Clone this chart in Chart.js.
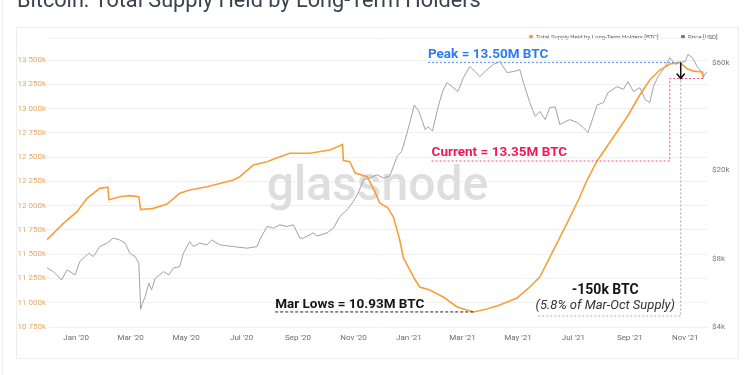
<!DOCTYPE html>
<html>
<head>
<meta charset="utf-8">
<script src="https://cdn.jsdelivr.net/npm/chart.js@4.4.1/dist/chart.umd.min.js"></script>
<style>
  html, body { margin: 0; padding: 0; background: #fff; }
  #wrap { position: relative; width: 750px; height: 375px; overflow: hidden; }
  canvas { position: absolute; left: 0; top: 0; }
</style>
</head>
<body>
<div id="wrap"><canvas id="chart" width="750" height="375"></canvas></div>
<script>
// Long-term holder supply (BTC)
const supplyDates = [
  '2019-11-30', '2019-12-18', '2020-01-02', '2020-01-13', '2020-01-27', '2020-02-05', '2020-02-06',
  '2020-02-18', '2020-02-29', '2020-03-10', '2020-03-12', '2020-03-26', '2020-04-10', '2020-04-24',
  '2020-05-05', '2020-05-24', '2020-06-22', '2020-06-29', '2020-07-14', '2020-07-29', '2020-08-05',
  '2020-08-23', '2020-09-14', '2020-10-06', '2020-10-17', '2020-10-20', '2020-10-21', '2020-10-28',
  '2020-11-03', '2020-11-16', '2020-11-23', '2020-11-30', '2020-12-09', '2020-12-15', '2020-12-22',
  '2020-12-26', '2021-01-08', '2021-01-13', '2021-01-24', '2021-02-08', '2021-02-23', '2021-03-13',
  '2021-03-28', '2021-04-11', '2021-04-30', '2021-05-14', '2021-05-25', '2021-06-09', '2021-06-24',
  '2021-07-08', '2021-07-16', '2021-07-27', '2021-08-14', '2021-08-29', '2021-09-12', '2021-09-23',
  '2021-10-04', '2021-10-15', '2021-10-26', '2021-11-03', '2021-11-10', '2021-11-20', '2021-11-21'
];
const supplyValues = [
  11650, 11818, 11938, 12075, 12178, 12190, 12060,
  12092, 12103, 12092, 11960, 11972, 12017, 12127,
  12161, 12195, 12264, 12298, 12419, 12453, 12478,
  12540, 12540, 12573, 12617, 12630, 12465, 12453,
  12336, 12298, 12178, 12027, 11976, 11883, 11646,
  11461, 11234, 11162, 11131, 11059, 10956, 10905,
  10935, 10977, 11049, 11162, 11265, 11543, 11821,
  12089, 12264, 12460, 12707, 12913, 13140, 13294,
  13397, 13459, 13475, 13410, 13386, 13376, 13310
];

// BTC price (USD)
const priceDates = [
  '2019-11-30', '2019-12-07', '2019-12-16', '2019-12-22', '2019-12-31', '2020-01-05', '2020-01-15',
  '2020-01-20', '2020-01-27', '2020-02-04', '2020-02-11', '2020-02-18', '2020-02-24', '2020-02-29',
  '2020-03-06', '2020-03-10', '2020-03-12', '2020-03-14', '2020-03-17', '2020-03-21', '2020-03-24',
  '2020-03-28', '2020-04-02', '2020-04-06', '2020-04-12', '2020-04-17', '2020-04-24', '2020-04-28',
  '2020-05-05', '2020-05-09', '2020-05-16', '2020-05-24', '2020-05-29', '2020-06-07', '2020-06-22',
  '2020-07-07', '2020-07-18', '2020-07-21', '2020-07-29', '2020-08-05', '2020-08-12', '2020-08-20',
  '2020-08-27', '2020-09-03', '2020-09-07', '2020-09-18', '2020-09-22', '2020-10-03', '2020-10-10',
  '2020-10-17', '2020-10-25', '2020-11-01', '2020-11-07', '2020-11-12', '2020-11-19', '2020-11-27',
  '2020-12-04', '2020-12-11', '2020-12-19', '2020-12-24', '2020-12-28', '2021-01-02', '2021-01-07',
  '2021-01-12', '2021-01-16', '2021-01-19', '2021-01-22', '2021-01-27', '2021-02-02', '2021-02-07',
  '2021-02-12', '2021-02-19', '2021-02-24', '2021-03-02', '2021-03-09', '2021-03-15', '2021-03-20',
  '2021-03-28', '2021-04-04', '2021-04-11', '2021-04-19', '2021-04-26', '2021-05-03', '2021-05-07',
  '2021-05-14', '2021-05-17', '2021-05-20', '2021-05-25', '2021-05-31', '2021-06-05', '2021-06-11',
  '2021-06-16', '2021-06-22', '2021-06-27', '2021-07-05', '2021-07-12', '2021-07-17', '2021-07-23',
  '2021-07-27', '2021-08-03', '2021-08-08', '2021-08-18', '2021-08-25', '2021-08-30', '2021-09-05',
  '2021-09-12', '2021-09-18', '2021-09-23', '2021-09-27', '2021-10-02', '2021-10-10', '2021-10-15',
  '2021-10-21', '2021-10-26', '2021-11-01', '2021-11-04', '2021-11-09', '2021-11-14', '2021-11-17',
  '2021-11-21', '2021-11-25'
];
const priceValues = [
  7340, 7060, 6480, 7190, 6825, 7825, 8530,
  8240, 9130, 9456, 9956, 9780, 9456, 8530,
  8240, 7700, 4800, 5100, 5464, 6268, 5852,
  6600, 6830, 7064, 6825, 7330, 7434, 8530,
  9612, 9130, 9456, 9290, 9780, 9290, 9130,
  8980, 9130, 9780, 11220, 11030, 11410, 11220,
  11410, 9956, 9956, 10510, 10170, 10510, 11030,
  12430, 13310, 14500, 16070, 18120, 18450, 19080,
  18450, 18800, 23020, 24250, 27400, 32500, 39000,
  36500, 32900, 30300, 31200, 29900, 38000, 44800,
  49100, 46600, 44800, 51700, 57900, 55000, 52200,
  56100, 59150, 61000, 54400, 55000, 56100, 49100,
  40000, 37200, 34700, 36500, 33600, 38000, 38300,
  31900, 32900, 33600, 32600, 30900, 29400, 34700,
  39000, 40000, 44300, 47100, 45800, 49600, 44800,
  46600, 41200, 40000, 47100, 52200, 57900, 63400,
  59150, 60500, 61000, 65500, 63400, 57900, 56100,
  52200, 55000
];

const xTickDates = ['2020-01-01', '2020-03-01', '2020-05-01', '2020-07-01', '2020-09-01', '2020-11-01',
  '2021-01-01', '2021-03-01', '2021-05-01', '2021-07-01', '2021-09-01', '2021-11-01'];
const xTickLabels = ["Jan '20", "Mar '20", "May '20", "Jul '20", "Sep '20", "Nov '20",
  "Jan '21", "Mar '21", "May '21", "Jul '21", "Sep '21", "Nov '21"];
const supplyTicks = [10750, 11000, 11250, 11500, 11750, 12000, 12250, 12500, 12750, 13000, 13250, 13500];
const priceTicks = [4000, 8000, 20000, 60000];

// annotation anchors (data units)
const peakValue = 13475;
const currentValue = 13310;
const lowValue = 10905;

const dayOf = s => (Date.parse(s) - Date.parse('2020-01-01')) / 86400000;

const ORANGE = '#f7a03a';
const GREY = '#a3a3a3';

function fmtSupply(v) {
  const th = Math.floor(v / 1000);
  const rest = String(v % 1000).padStart(3, '0');
  return th + ' ' + rest + 'k';
}

function dashed(ctx, pts, color, dash, width) {
  ctx.save();
  ctx.strokeStyle = color;
  ctx.lineWidth = width || 1;
  ctx.setLineDash(dash);
  ctx.beginPath();
  ctx.moveTo(pts[0][0], pts[0][1]);
  for (let i = 1; i < pts.length; i++) ctx.lineTo(pts[i][0], pts[i][1]);
  ctx.stroke();
  ctx.restore();
}

function text(ctx, str, x, y, font, color, align) {
  ctx.save();
  ctx.font = font;
  ctx.fillStyle = color;
  ctx.textAlign = align || 'left';
  ctx.textBaseline = 'middle';
  ctx.fillText(str, x, y);
  ctx.restore();
}

// frame, title, legend and watermark
const backdrop = {
  id: 'backdrop',
  beforeDraw(chart) {
    const { ctx } = chart;
    ctx.save();
    ctx.fillStyle = '#fff';
    ctx.fillRect(0, 0, 750, 375);
    ctx.strokeStyle = '#ededed';
    ctx.lineWidth = 1;
    ctx.beginPath();
    ctx.moveTo(2.5, 0); ctx.lineTo(2.5, 375);
    ctx.stroke();
    ctx.strokeRect(16.5, 27.5, 722, 331);
    ctx.font = '21.7px Roboto';
    ctx.fillStyle = '#3c414d';
    ctx.textBaseline = 'alphabetic';
    ctx.fillText('Bitcoin: Total Supply Held by Long-Term Holders', 17, 7);

    // legend
    ctx.font = '6px Roboto';
    ctx.textBaseline = 'middle';
    ctx.fillStyle = ORANGE;
    ctx.beginPath(); ctx.arc(531, 37, 2.2, 0, Math.PI * 2); ctx.fill();
    ctx.fillStyle = '#5a5a5a';
    ctx.fillText('Total Supply Held by Long-Term Holders [BTC]', 536, 37);
    ctx.fillStyle = '#777';
    ctx.beginPath(); ctx.arc(683, 37, 2.2, 0, Math.PI * 2); ctx.fill();
    ctx.fillStyle = '#5a5a5a';
    ctx.fillText('Price [USD]', 688, 37);
    ctx.restore();
  },
  beforeDatasetsDraw(chart) {
    const { ctx, chartArea } = chart;
    ctx.save();
    ctx.font = '500 48px Roboto';
    ctx.fillStyle = '#dedede';
    ctx.textAlign = 'center';
    ctx.textBaseline = 'alphabetic';
    ctx.fillText('glassnode', (chartArea.left + chartArea.right) / 2, 200);
    ctx.restore();
  }
};

// hand-drawn style notes on top
const notes = {
  id: 'notes',
  afterDatasetsDraw(chart) {
    const { ctx } = chart;
    const x = chart.scales.x, y = chart.scales.y;
    const px = d => x.getPixelForValue(dayOf(d));
    const py = v => y.getPixelForValue(v);

    // peak
    const xPeak = px('2021-10-27');
    dashed(ctx, [[px('2021-01-22'), py(peakValue)], [xPeak, py(peakValue)]], '#5c9ef7', [2, 2], 1.2);
    text(ctx, 'Peak = 13.50M BTC', px('2021-01-22'), py(peakValue) - 8, 'bold 13.5px Roboto', '#2d7bf4');

    // current
    const xCur = px('2021-10-15');
    const yLvl = py(12460);
    dashed(ctx, [[px('2021-01-26'), yLvl], [xCur, yLvl], [xCur, py(currentValue)], [px('2021-11-21'), py(currentValue)]],
      '#f0508a', [2, 2], 1);
    text(ctx, 'Current = 13.35M BTC', px('2021-01-26'), yLvl - 8.5, 'bold 13.5px Roboto', '#f0185a');

    // drop box
    const yBox = py(10863);
    dashed(ctx, [[xPeak, py(currentValue) + 2], [xPeak, yBox], [px('2021-05-23'), yBox]], '#a8a8a8', [2, 2], 1);

    // arrow
    ctx.save();
    ctx.strokeStyle = '#111';
    ctx.lineWidth = 1.5;
    ctx.beginPath();
    ctx.moveTo(xPeak, py(peakValue));
    ctx.lineTo(xPeak, py(currentValue));
    ctx.moveTo(xPeak - 4, py(currentValue) - 5);
    ctx.lineTo(xPeak, py(currentValue));
    ctx.lineTo(xPeak + 4, py(currentValue) - 5);
    ctx.stroke();
    ctx.restore();

    // march lows
    dashed(ctx, [[px('2020-08-07'), py(lowValue)], [px('2021-03-13'), py(lowValue)]], '#222', [3, 2], 1);
    text(ctx, 'Mar Lows = 10.93M BTC', px('2020-08-07'), py(lowValue) - 7.5, 'bold 13.5px Roboto', '#151515');

    text(ctx, '-150k BTC', px('2021-08-05'), 290, 'bold 14px Roboto', '#151515', 'center');
    text(ctx, '(5.8% of Mar-Oct Supply)', px('2021-08-05'), 306, 'italic 13px Roboto', '#333', 'center');
  }
};

new Chart(document.getElementById('chart'), {
  type: 'line',
  data: {
    datasets: [
      {
        label: 'Total Supply Held by Long-Term Holders [BTC]',
        data: supplyDates.map((d, i) => ({ x: dayOf(d), y: supplyValues[i] })),
        borderColor: ORANGE,
        borderWidth: 1.6,
        pointRadius: 0,
        yAxisID: 'y'
      },
      {
        label: 'Price [USD]',
        data: priceDates.map((d, i) => ({ x: dayOf(d), y: priceValues[i] })),
        borderColor: GREY,
        borderWidth: 1,
        pointRadius: 0,
        yAxisID: 'y1'
      }
    ]
  },
  options: {
    responsive: false,
    animation: false,
    devicePixelRatio: 1,
    layout: { padding: { top: 38, left: 0, right: 0, bottom: 0 } },
    plugins: { legend: { display: false }, tooltip: { enabled: false } },
    scales: {
      x: {
        type: 'linear',
        min: -32,
        max: 695,
        grid: { display: false, drawTicks: false },
        border: { display: false },
        afterBuildTicks: s => { s.ticks = xTickDates.map(d => ({ value: dayOf(d) })); },
        afterFit: s => { s.height = 48; },
        ticks: {
          autoSkip: false,
          maxRotation: 0,
          padding: 6,
          color: '#6d6d6d',
          font: { family: 'Roboto', size: 8 },
          callback: (v, i) => xTickLabels[i]
        }
      },
      y: {
        position: 'left',
        min: 10750,
        max: 13727,
        grid: { color: '#f0f0f0', drawTicks: false },
        border: { display: false },
        afterBuildTicks: s => { s.ticks = supplyTicks.concat([13727]).map(v => ({ value: v })); },
        afterFit: s => { s.width = 47; },
        ticks: {
          padding: 1,
          color: '#e3a866',
          font: { family: 'Roboto', size: 8 },
          callback: v => (v % 250 === 0 ? fmtSupply(v) : '')
        }
      },
      y1: {
        type: 'logarithmic',
        position: 'right',
        min: 4000,
        max: 77600,
        grid: { display: false, drawTicks: false },
        border: { display: false },
        afterBuildTicks: s => { s.ticks = priceTicks.map(v => ({ value: v })); },
        afterFit: s => { s.width = 42; },
        ticks: {
          padding: 4,
          color: '#7a7a7a',
          font: { family: 'Roboto', size: 8 },
          callback: v => '$' + (v / 1000) + 'k'
        }
      }
    }
  },
  plugins: [backdrop, notes]
});
</script>
</body>
</html>
